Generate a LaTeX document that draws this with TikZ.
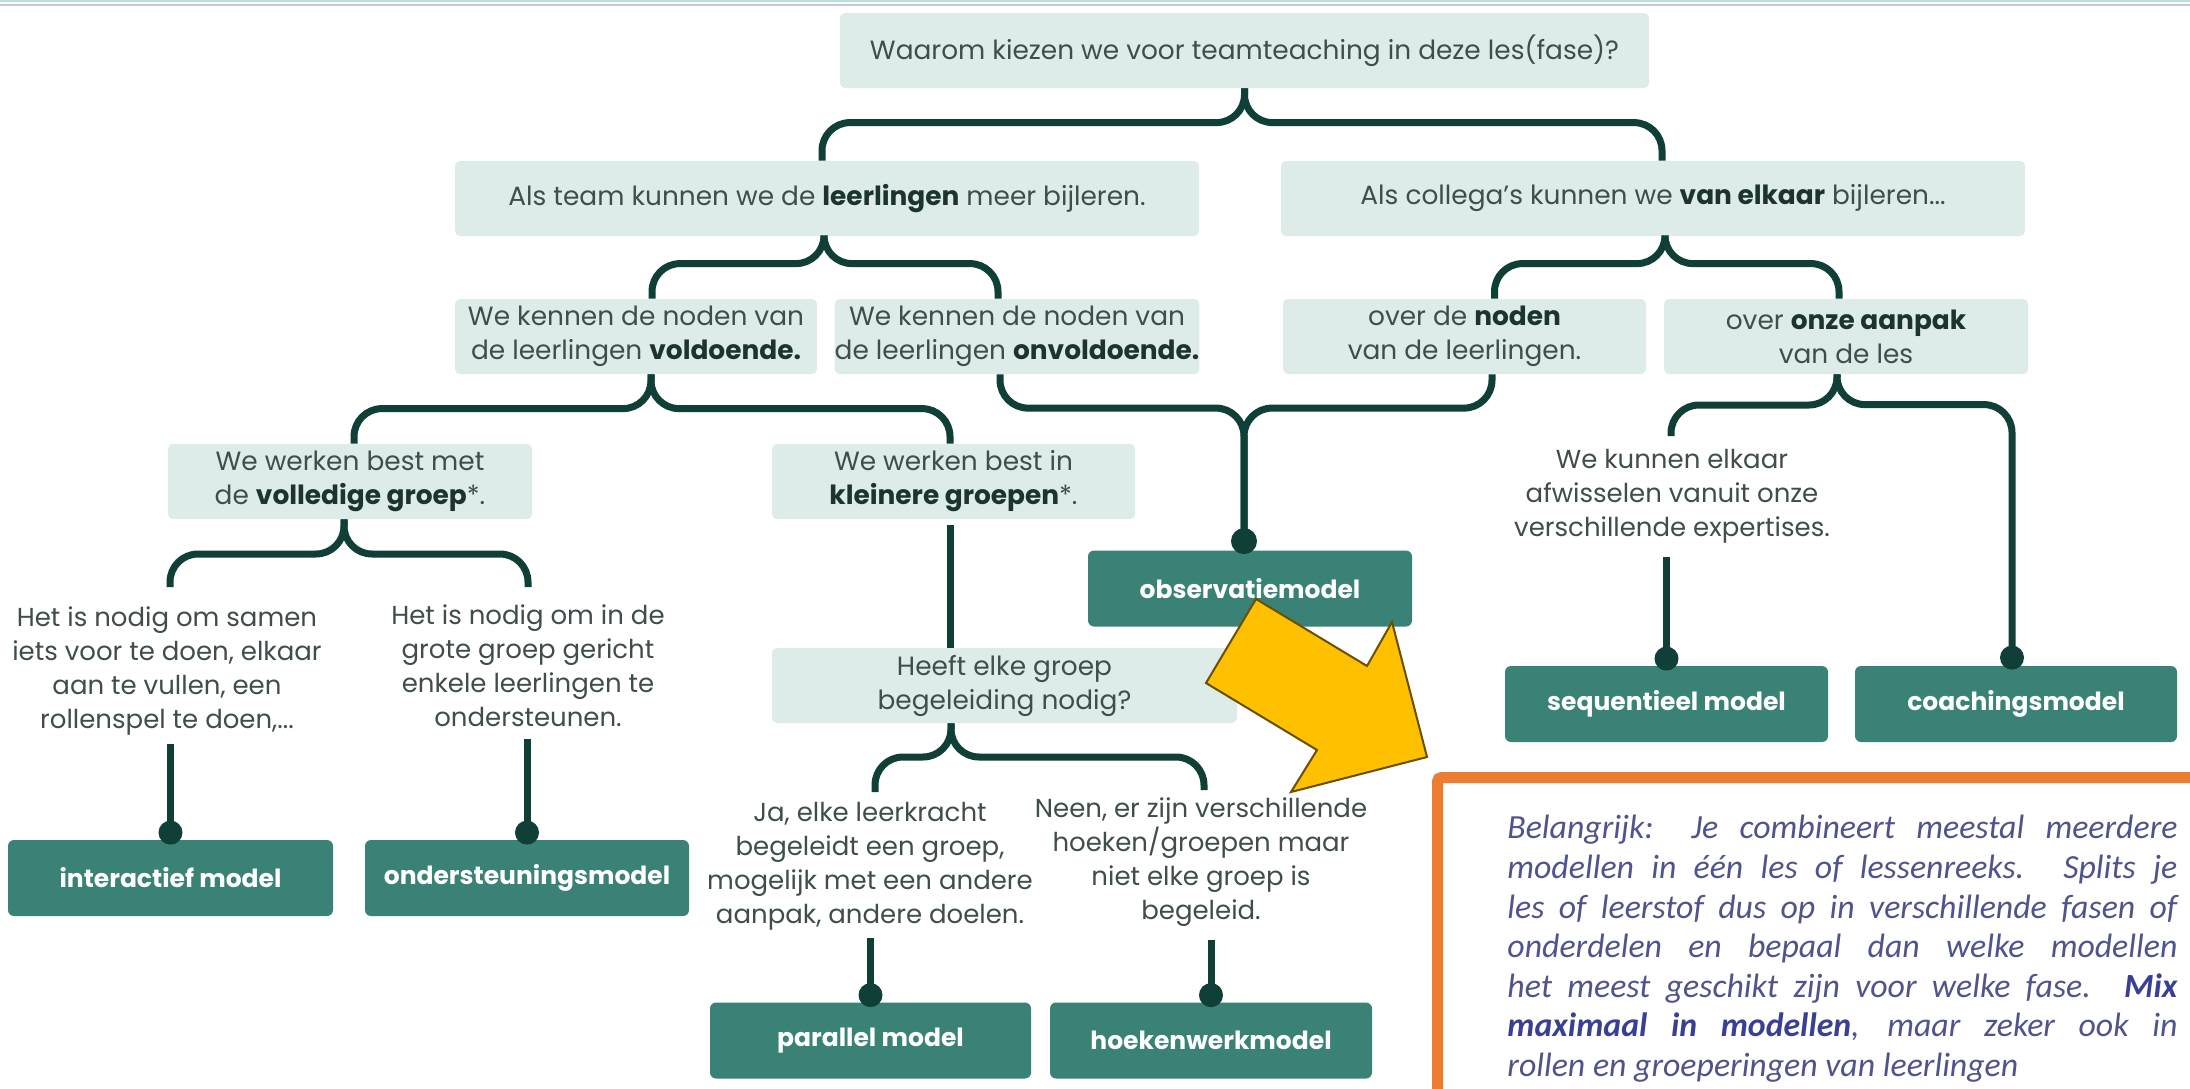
\documentclass[tikz,border=0pt]{standalone}
\usepackage{fontspec}
\setmainfont{Poppins}
\newfontfamily\carl{Carlito}
\usetikzlibrary{calc}
\definecolor{lbox}{HTML}{DDEBE9}
\definecolor{mbox}{HTML}{3A8276}
\definecolor{lnk}{HTML}{0F3F37}
\definecolor{txt}{HTML}{404E4B}
\definecolor{btxt}{HTML}{1C332E}
\definecolor{orng}{HTML}{ED7D31}
\definecolor{arw}{HTML}{FFC000}
\definecolor{arwb}{HTML}{6B4E00}
\definecolor{note}{HTML}{50548C}
\definecolor{noteb}{HTML}{393F93}
\definecolor{topteal}{HTML}{B9DEDC}
\definecolor{topgray}{HTML}{C9C9CB}
\newcommand{\bt}[1]{{\bfseries\color{btxt}#1}}
\tikzset{
 lb/.style={fill=lbox, rounded corners=2.5pt, inner sep=0pt, align=center, text=txt,
   font=\fontsize{13.2}{17}\selectfont, minimum height=37.5pt},
 mb/.style={fill=mbox, rounded corners=3pt, inner sep=0pt, align=center, text=white,
   font=\fontsize{12.5}{15}\selectfont\bfseries, minimum height=38pt},
 tx/.style={inner sep=0pt, align=center, text=txt, font=\fontsize{13}{17}\selectfont},
 br/.style={draw=lnk, line width=3.5pt, rounded corners=14pt},
 ln/.style={draw=lnk, line width=3.5pt},
}
\begin{document}
\begin{tikzpicture}[x=0.5pt,y=-0.5pt]
\useasboundingbox (0,0) rectangle (2190,1088);
\fill[white] (0,0) rectangle (2190,1088);
\fill[topteal] (0,0) rectangle (2190,1.5);
\fill[topgray] (0,3.5) rectangle (2190,5.5);

% light boxes
\node[lb, minimum width=404.5pt] (q0) at (1244.5,50.5) {Waarom kiezen we voor teamteaching in deze les(fase)?};
\node[lb, minimum width=372pt] (a1) at (827,198.5) {Als team kunnen we de \bt{leerlingen} meer bijleren.};
\node[lb, minimum width=372pt] (a2) at (1653,198.5) {Als collega's kunnen we \bt{van elkaar} bijleren...};
\node[lb, minimum width=181pt] (b1) at (636,336.5) {We kennen de noden van\\de leerlingen \bt{voldoende.}};
\node[lb, minimum width=182pt] (b2) at (1017,336.5) {We kennen de noden van\\de leerlingen \bt{onvoldoende.}};
\node[lb, minimum width=181.5pt] (b3) at (1464.5,336.5) {over de \bt{noden}\\van de leerlingen.};
\node[lb, minimum width=182pt] (b4) at (1846,336.5) {over \bt{onze aanpak}\\van de les};
\node[lb, minimum width=182pt] (c1) at (350,481.5) {We werken best met\\de \bt{volledige groep}*.};
\node[lb, minimum width=181.5pt] (c2) at (953.5,481.5) {We werken best in\\\bt{kleinere groepen}*.};
\node[lb, minimum width=232.5pt] (d1) at (1004.5,685.5) {Heeft elke groep\\begeleiding nodig?};

% plain texts
\node[tx] (t1) at (167,671) {Het is nodig om samen\\iets voor te doen, elkaar\\aan te vullen, een\\rollenspel te doen,...};
\node[tx] (t2) at (528,666) {Het is nodig om in de\\grote groep gericht\\enkele leerlingen te\\ondersteunen.};
\node[tx] (t3) at (870,866) {Ja, elke leerkracht\\begeleidt een groep,\\mogelijk met een andere\\aanpak, andere doelen.};
\node[tx] (t4) at (1201,862) {Neen, er zijn verschillende\\hoeken/groepen maar\\niet elke groep is\\begeleid.};
\node[tx] (t5) at (1672,496) {We kunnen elkaar\\afwisselen vanuit onze\\verschillende expertises.};

% model boxes
\node[mb, minimum width=162.5pt] (m1) at (170.5,878) {interactief model};
\node[mb, minimum width=162pt] (m2) at (527,878) {ondersteuningsmodel};
\node[mb, minimum width=160.5pt] (m3) at (870.5,1040.5) {parallel model};
\node[mb, minimum width=161pt] (m4) at (1211,1040.5) {hoekenwerkmodel};
\node[mb, minimum width=162pt] (m5) at (1250,588.5) {observatiemodel};
\node[mb, minimum width=161.5pt] (m6) at (1666.5,704) {sequentieel model};
\node[mb, minimum width=161pt] (m7) at (2016,704) {coachingsmodel};

% braces
\draw[br] (q0.south) |- ($(a1.north)+(-5,-38)$) -- ($(a1.north)+(-5,0)$);
\draw[br] (q0.south) |- ($(a2.north)+(9,-38)$) -- ($(a2.north)+(9,0)$);

\coordinate (a1x) at ($(a1.south)+(-3,0)$);
\draw[br] (a1x) |- ($(b1.north)+(16,-35)$) -- ($(b1.north)+(16,0)$);
\draw[br] (a1x) |- ($(b2.north)+(-19,-35)$) -- ($(b2.north)+(-19,0)$);

\coordinate (a2x) at ($(a2.south)+(12,0)$);
\draw[br] (a2x) |- ($(b3.north)+(30,-35)$) -- ($(b3.north)+(30,0)$);
\draw[br] (a2x) |- ($(b4.north)+(-7,-35)$) -- ($(b4.north)+(-7,0)$);

\coordinate (b1x) at ($(b1.south)+(15,0)$);
\draw[br] (b1x) |- ($(c1.north)+(4,-35)$) -- ($(c1.north)+(4,0)$);
\draw[br] (b1x) |- ($(c2.north)+(-3.5,-35)$) -- ($(c2.north)+(-3.5,0)$);

\coordinate (jn) at ($(m5.north)+(-6,-142)$);
\coordinate (m5t) at ($(m5.north)+(-6,0)$);
\draw[br] ($(b2.south)+(-17,0)$) |- (jn) -- (m5t);
\draw[br] ($(b3.south)+(27.5,0)$) |- (jn) -- (m5t);
\fill[lnk] ($(m5t)+(0,-9)$) circle (6.5pt);

\coordinate (b4x) at ($(b4.south)+(-9,0)$);
\coordinate (e5) at (1671,436);
\coordinate (m7t) at ($(m7.north)+(-4,0)$);
\draw[br] (b4x) |- ($(e5)+(0,-31)$) -- (e5);
\draw[br] (b4x) |- ($(m7t)+(0,-261)$) -- (m7t);
\fill[lnk] ($(m7t)+(0,-8)$) circle (6pt);

\coordinate (c1x) at ($(c1.south)+(-6,0)$);
\coordinate (e1) at (170,587);
\coordinate (e2) at (528,587);
\draw[br] (c1x) |- ($(e1)+(0,-33)$) -- (e1);
\draw[br] (c1x) |- ($(e2)+(0,-33)$) -- (e2);

\coordinate (k) at ($(c2.south)+(-3.5,6)$);
\draw[ln] (k) -- (k |- d1.north);

\coordinate (d1x) at ($(d1.south)+(-53.5,0)$);
\coordinate (e3) at (875,792);
\coordinate (e4) at (1204,790);
\draw[br] (d1x) |- ($(e3)+(0,-35)$) -- (e3);
\draw[br] (d1x) |- ($(e4)+(0,-33)$) -- (e4);

% vertical connectors to models
\coordinate (v1) at (170.5,744);
\coordinate (v2) at (527,739);
\coordinate (v3) at (870.5,938);
\coordinate (v4) at (1211,940);
\coordinate (v6) at (1666.5,557);
\foreach \v/\m in {v1/m1,v2/m2,v3/m3,v4/m4,v6/m6}{
  \draw[ln] (\v) -- (\v |- \m.north);
  \fill[lnk] ($(\v |- \m.north)+(0,-7)$) circle (6pt);
}

% orange note box
\begin{scope}
\clip (0,0) rectangle (2190,1088);
\draw[orng, line width=5.5pt, rounded corners=2pt] (1437.5,1110) -- (1437.5,777.5) -- (2210,777.5);
\end{scope}
\node[inner sep=0pt, anchor=north west, align=left, text=note,
  font=\carl\itshape\fontsize{16.9}{19.8}\selectfont] (note) at (1507,815) {%
\makebox[335pt][s]{Belangrijk: Je combineert meestal meerdere}\\
\makebox[335pt][s]{modellen in één les of lessenreeks. Splits je}\\
\makebox[335pt][s]{les of leerstof dus op in verschillende fasen of}\\
\makebox[335pt][s]{onderdelen en bepaal dan welke modellen}\\
\makebox[335pt][s]{het meest geschikt zijn voor welke fase. {\bfseries\color{noteb}Mix}}\\
\makebox[335pt][s]{{\bfseries\color{noteb}maximaal in modellen}, maar zeker ook in}\\
\makebox[335pt][l]{rollen en groeperingen van leerlingen}};

% yellow arrow
\draw[fill=arw, draw=arwb, line width=1pt, line join=miter]
  (1256,599) -- (1367,666) -- (1392,622) -- (1427,757) -- (1291,792) -- (1317,750) -- (1206,683) -- cycle;
\end{tikzpicture}
\end{document}
